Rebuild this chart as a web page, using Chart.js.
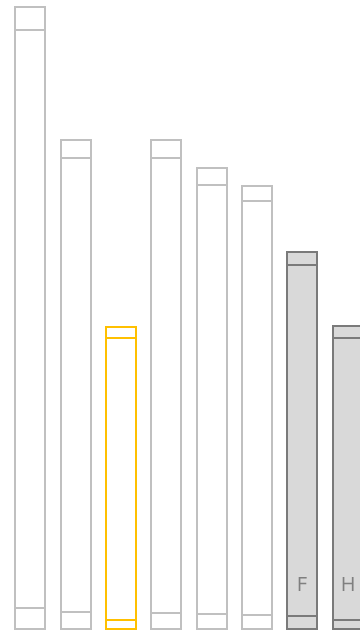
<!DOCTYPE html>
<html>
<head>
<meta charset="utf-8">
<script src="https://cdn.jsdelivr.net/npm/chart.js@4"></script>
<style>
html,body{margin:0;padding:0;background:#fff;overflow:hidden;}
#wrap{width:376px;height:632px;}
</style>
</head>
<body>
<div id="wrap"><canvas id="c" width="376" height="632"></canvas></div>
<script>
const categories = ["A", "B", "C", "D", "E", "F", "G", "H"];
const barLabels = ["", "", "", "", "", "", "F", "H"];
const bottomValues = [3.7, 3.0, 1.7, 2.9, 2.7, 2.5, 2.4, 1.7];
const middleValues = [91.7, 72.1, 44.8, 72.2, 68.1, 65.7, 55.7, 44.8];
const topValues = [3.7, 2.9, 1.7, 2.9, 2.7, 2.5, 2.1, 1.9];
const barKinds = ["plain", "plain", "highlight", "plain", "plain", "plain", "shaded", "shaded"];

const borderByKind = {plain: "#c0c0c0", highlight: "#ffc000", shaded: "#7a7a7a"};
const fillByKind = {plain: "#ffffff", highlight: "#ffffff", shaded: "#d9d9d9"};
const borders = barKinds.map(k => borderByKind[k]);
const fills = barKinds.map(k => fillByKind[k]);

function ds(label, data, skip) {
  return {
    label, data,
    backgroundColor: fills,
    borderColor: borders,
    borderWidth: 2,
    borderSkipped: skip,
    inflateAmount: 0,
    barThickness: 32
  };
}

// snap bar edges to whole pixels so the 2px borders stay crisp
const snapPlugin = {
  id: "snapBars",
  beforeDatasetsDraw(chart) {
    chart.data.datasets.forEach((d, di) => {
      chart.getDatasetMeta(di).data.forEach(bar => {
        bar.x = Math.round(bar.x);
        bar.y = Math.round(bar.y);
        bar.base = Math.round(bar.base);
      });
    });
  }
};

const labelPlugin = {
  id: "barLabels",
  afterDatasetsDraw(chart) {
    const ctx = chart.ctx;
    const meta = chart.getDatasetMeta(1);
    const y = chart.chartArea.bottom - 45;
    ctx.save();
    ctx.font = "20px 'Open Sans', 'Noto Sans', sans-serif";
    ctx.fillStyle = "#7f7f7f";
    ctx.textAlign = "center";
    ctx.textBaseline = "middle";
    meta.data.forEach((bar, i) => {
      if (barLabels[i]) ctx.fillText(barLabels[i], bar.x, y);
    });
    ctx.restore();
  }
};

new Chart(document.getElementById("c"), {
  type: "bar",
  data: {
    labels: categories,
    datasets: [
      ds("bottom", bottomValues, false),
      ds("middle", middleValues, "start"),
      ds("top", topValues, "start")
    ]
  },
  options: {
    responsive: false,
    animation: false,
    layout: {padding: {left: 7.5, right: 5.6, top: 0, bottom: 2}},
    plugins: {legend: {display: false}, tooltip: {enabled: false}},
    scales: {
      x: {stacked: true, display: false},
      y: {stacked: true, display: false, min: 0, max: 100}
    }
  },
  plugins: [snapPlugin, labelPlugin]
});
</script>
</body>
</html>
